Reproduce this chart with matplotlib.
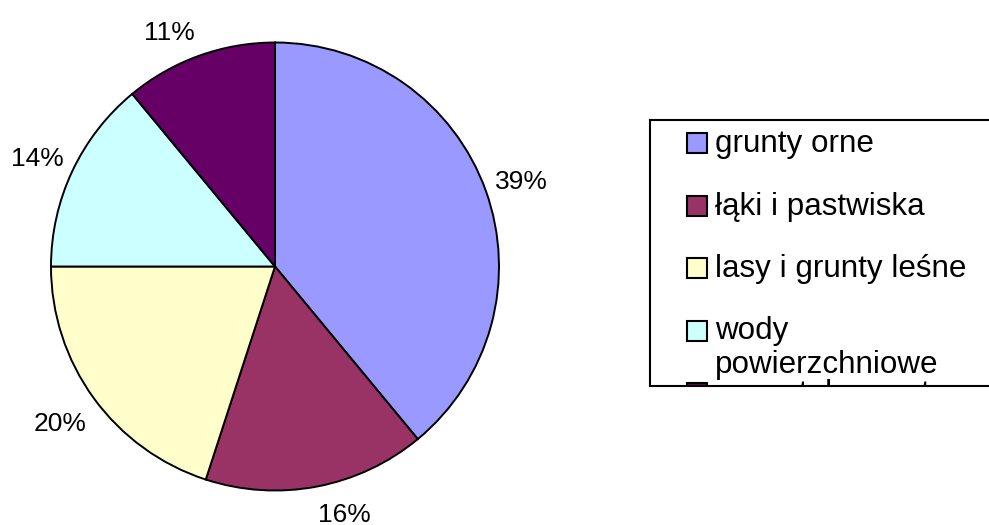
import numpy as np
import matplotlib.pyplot as plt
from matplotlib.patches import Rectangle

plt.rcParams['font.family'] = ['Liberation Sans', 'DejaVu Sans']

# data
categories = ['grunty orne', 'łąki i pastwiska', 'lasy i grunty leśne',
              'wody\npowierzchniowe', 'pozostałe grunty']
shares = [39, 16, 20, 14, 11]
colors = ['#9999FF', '#993366', '#FFFFCC', '#CCFFFF', '#660066']

W, H = 989, 525
fig = plt.figure(figsize=(W / 100, H / 100), dpi=100)

# pie, centre (275, 266) radius 224 px
cx, cy, r = 275, 266.5, 224
ax = fig.add_axes([(cx - r) / W, (H - cy - r) / H, 2 * r / W, 2 * r / H])
wedges, _, pcts = ax.pie(shares, colors=colors, startangle=90, counterclock=False,
                         autopct='%1.0f%%', pctdistance=1.15,
                         wedgeprops=dict(edgecolor='black', linewidth=1.4),
                         textprops=dict(fontsize=19, color='black'))
ax.set_xlim(-1, 1)
ax.set_ylim(-1, 1)

# put labels just outside the rim, Excel style: the box is hung off the
# rim point on the side facing away from the pie
hw, hh, gap = 26 / r, 10 / r, 10 / r
for w, t in zip(wedges, pcts):
    a = np.deg2rad((w.theta1 + w.theta2) / 2)
    d = 1 + gap + abs(np.cos(a)) * hw + abs(np.sin(a)) * hh
    x = (1 + gap) * np.cos(a) + np.sign(np.cos(a)) * hw
    y = d * np.sin(a) - 4 / r
    t.set_position((x, y))

# legend box (clipped at the bottom, runs off the right edge)
lx0, ly0, lx1, ly1 = 650, 120, 1000, 386
lax = fig.add_axes([lx0 / W, (H - ly1) / H, (lx1 - lx0) / W, (ly1 - ly0) / H])
lax.set_xlim(0, lx1 - lx0)
lax.set_ylim(ly1 - ly0, 0)
lax.set_xticks([])
lax.set_yticks([])
for s in lax.spines.values():
    s.set_linewidth(1.5)
lax.patch.set_alpha(0)

row0, step, sq = 23, 62.5, 20
for i, (lab, col) in enumerate(zip(categories, colors)):
    yc = row0 + i * step
    lax.add_patch(Rectangle((37, yc - sq / 2), sq, sq, facecolor=col,
                            edgecolor='black', linewidth=1.5, clip_on=True))
    lax.text(65, yc - 14, lab, fontsize=22.6, va='top', ha='left',
             linespacing=1.15, clip_on=True)

fig.savefig('out.png', dpi=100)
